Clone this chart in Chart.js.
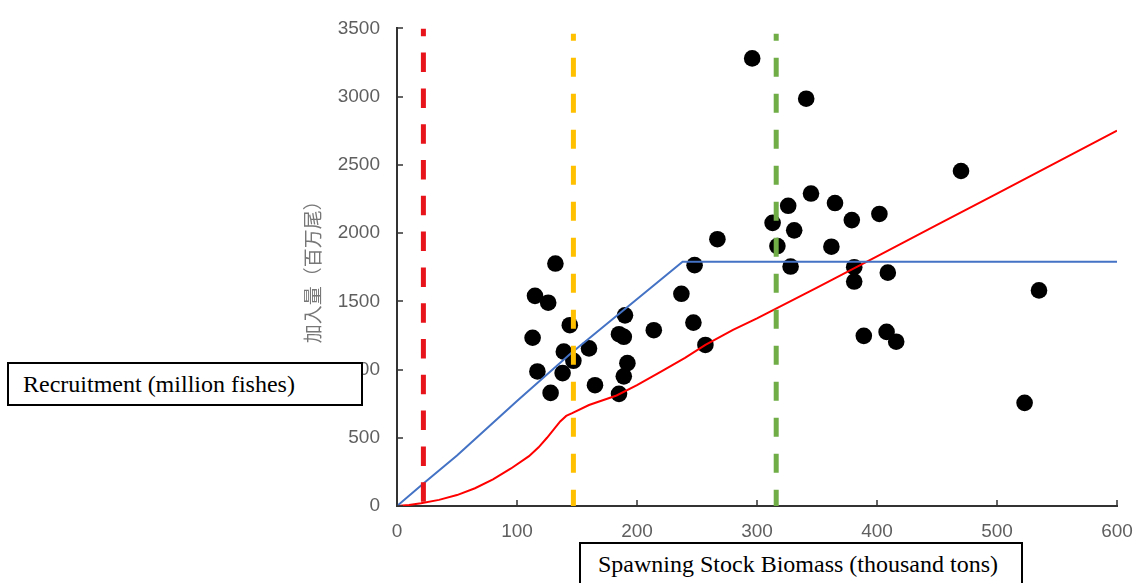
<!DOCTYPE html>
<html>
<head>
<meta charset="utf-8">
<script src="https://cdn.jsdelivr.net/npm/chart.js@4/dist/chart.umd.min.js"></script>
<style>
  body { margin: 0; background: #fff; }
  #wrap { position: relative; width: 1135px; height: 583px; overflow: hidden; }
  .note {
    position: absolute; box-sizing: border-box; background: #fff;
    border: 2px solid #000; display: flex; align-items: center;
    font-family: "Liberation Serif", "Times New Roman", serif; font-size: 24px; color: #000;
    white-space: nowrap;
  }
  #yNote { left: 7px; top: 362px; width: 356px; height: 44px; padding-left: 14px; }
  #xNote { left: 579px; top: 542px; width: 444px; height: 42px; padding-left: 17px; border-bottom: none; }
</style>
</head>
<body>
<div id="wrap">
  <canvas id="chart" width="1135" height="583"></canvas>
  <div class="note" id="yNote">Recruitment (million fishes)</div>
  <div class="note" id="xNote">Spawning Stock Biomass (thousand tons)</div>
</div>
<script>
// observed stock-recruitment pairs (SSB, recruitment)
const ssb = [296, 341, 470, 345, 365, 326, 402, 379, 313, 331, 267, 317, 362, 248, 328, 381, 132, 409, 381, 535,
             237, 115, 126, 190, 144, 247, 214, 113, 185, 189, 257, 389, 408, 416, 160, 139, 147, 192, 117, 138,
             189, 165, 128, 185, 523];
const recruits = [3280, 2985, 2455, 2290, 2220, 2200, 2140, 2095, 2075, 2020, 1955, 1905, 1900, 1765, 1755, 1750, 1777, 1710, 1645, 1580,
                  1555, 1540, 1490, 1397, 1325, 1344, 1288, 1233, 1259, 1240, 1180, 1247, 1276, 1204, 1155, 1131, 1064, 1047, 986, 974,
                  950, 885, 829, 822, 756];

// hockey-stick SR curve
const hsX = [0, 22, 50, 100, 145, 238, 600];
const hsY = [0, 165, 370, 770, 1120, 1790, 1790];

// red curve
const redX = [0, 10, 20, 35, 50, 65, 80, 95, 110, 118, 125, 131, 136, 141, 146, 160, 183, 200, 220, 240, 257, 280, 300, 350, 400, 450, 500, 550, 600];
const redY = [0, 8, 20, 45, 80, 130, 195, 275, 365, 430, 500, 565, 620, 660, 680, 740, 810, 885, 985, 1085, 1180, 1290, 1375, 1600, 1830, 2060, 2290, 2520, 2750];

// reference points (vertical dashed lines)
const refLines = [
  { x: 22, bottom: 0, top: 3500, color: '#E8141C', dash: [19.5, 16.3], offset: 31.5 },
  { x: 147, bottom: -20, top: 3460, color: '#FFC000', dash: [19, 17], offset: 0 },
  { x: 316, bottom: -20, top: 3460, color: '#70AD47', dash: [19, 17], offset: 0 }
];

const xTicks = [0, 100, 200, 300, 400, 500, 600];
const yTicks = [0, 500, 1000, 1500, 2000, 2500, 3000, 3500];

const axisColor = '#333';
const tickColor = '#5f5f5f';

const zip = (xs, ys) => xs.map((v, i) => ({ x: v, y: ys[i] }));

const datasets = [];
refLines.forEach(r => {
  datasets.push({
    type: 'line',
    data: [{ x: r.x, y: r.bottom }, { x: r.x, y: r.top }],
    borderColor: r.color,
    borderWidth: 5,
    borderDash: r.dash,
    borderDashOffset: r.offset,
    pointRadius: 0,
    fill: false
  });
});
datasets.push({
  type: 'line', data: zip(hsX, hsY), borderColor: '#4472C4', borderWidth: 2,
  pointRadius: 0, fill: false, tension: 0
});
datasets.push({
  type: 'line', data: zip(redX, redY), borderColor: '#FF0000', borderWidth: 2,
  pointRadius: 0, fill: false, tension: 0
});
datasets.push({
  type: 'scatter', data: zip(ssb, recruits), backgroundColor: '#000', borderColor: '#000',
  pointRadius: 8.3, borderWidth: 0
});

// tick marks point into the plot area
const inwardTicks = {
  id: 'inwardTicks',
  afterDraw(chart) {
    const { ctx, scales: { x, y } } = chart;
    ctx.save();
    ctx.strokeStyle = axisColor;
    ctx.lineWidth = 1.5;
    ctx.beginPath();
    xTicks.forEach(v => {
      const px = Math.round(x.getPixelForValue(v));
      ctx.moveTo(px, x.top);
      ctx.lineTo(px, x.top - 6);
    });
    yTicks.forEach(v => {
      const py = Math.round(y.getPixelForValue(v));
      ctx.moveTo(y.right, py);
      ctx.lineTo(y.right + 6, py);
    });
    ctx.stroke();
    ctx.restore();
  }
};

new Chart(document.getElementById('chart'), {
  data: { datasets },
  options: {
    responsive: false,
    animation: false,
    layout: { padding: { top: 23, right: 0, bottom: 0, left: 0 } },
    plugins: { legend: { display: false }, tooltip: { enabled: false } },
    scales: {
      x: {
        type: 'linear', min: 0, max: 600,
        afterBuildTicks: s => { s.ticks = xTicks.map(v => ({ value: v })); },
        afterFit: s => { s.height = 77; s.paddingRight = 18; s.paddingLeft = 0; },
        grid: { display: true, drawOnChartArea: false, drawTicks: false },
        border: { display: true, color: axisColor, width: 2 },
        ticks: {
          color: tickColor, padding: 14, font: { family: 'Liberation Sans', size: 19 },
          callback: v => String(v)
        }
      },
      y: {
        type: 'linear', min: 0, max: 3500,
        afterBuildTicks: s => { s.ticks = yTicks.map(v => ({ value: v })); },
        afterFit: s => { s.width = 397; },
        grid: { display: true, drawOnChartArea: false, drawTicks: false },
        border: { display: true, color: axisColor, width: 2 },
        ticks: {
          color: tickColor, padding: 17, font: { family: 'Liberation Sans', size: 19 },
          callback: v => String(v)
        },
        title: {
          display: true, text: '加入量（百万尾）', color: '#777',
          font: { family: 'Noto Sans CJK JP', size: 19 },
          padding: { top: 301, bottom: 0 }
        }
      }
    }
  },
  plugins: [inwardTicks]
});
</script>
</body>
</html>
